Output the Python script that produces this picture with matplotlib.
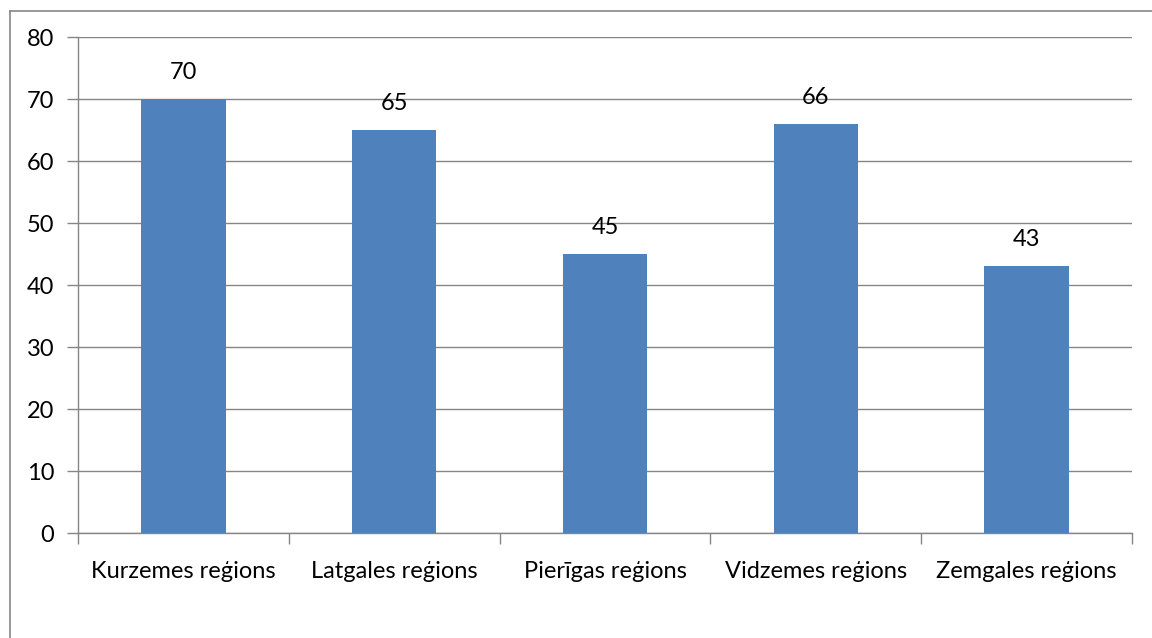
import matplotlib.pyplot as plt
from matplotlib.lines import Line2D

regions = ["Kurzemes reģions", "Latgales reģions", "Pierīgas reģions",
           "Vidzemes reģions", "Zemgales reģions"]
values = [70, 65, 45, 66, 43]
yticks = [0, 10, 20, 30, 40, 50, 60, 70, 80]

plt.rcParams['font.family'] = ['Lato', 'DejaVu Sans']

fig = plt.figure(figsize=(11.52, 6.38), dpi=100)
ax = fig.add_axes([78 / 1152, 1 - 533 / 638, (1132 - 78) / 1152, (533 - 37) / 638])

grey = '#868686'
x = list(range(len(regions)))
bars = ax.bar(x, values, width=0.4, color='#4F81BD', zorder=3)
for b, v in zip(bars, values):
    ax.text(b.get_x() + b.get_width() / 2, v + 2.6, str(v),
            ha='center', va='bottom', fontsize=17, color='black')

ax.set_xlim(-0.5, len(regions) - 0.5)
ax.set_ylim(0, 80)
ax.set_yticks(yticks)
ax.yaxis.grid(True, color=grey, linewidth=1, zorder=0)
ax.set_xticks(x)
ax.set_xticklabels(regions, fontsize=17)
ax.set_xticks([i - 0.5 for i in range(len(regions) + 1)], minor=True)
ax.tick_params(axis='x', which='major', length=0, pad=20)
ax.tick_params(axis='x', which='minor', length=8, color=grey, width=1, direction='out')
ax.tick_params(axis='y', length=8, color=grey, width=1, labelsize=17, pad=9)

for s in ['top', 'right']:
    ax.spines[s].set_visible(False)
for s in ['left', 'bottom']:
    ax.spines[s].set_color(grey)
    ax.spines[s].set_linewidth(1)

# outer chart frame (only left and top edges are inside the image)
fx, fy = 10 / 1152, 1 - 11 / 638
fig.lines.append(Line2D([fx, fx], [0, fy], transform=fig.transFigure, color=grey, linewidth=1.2))
fig.lines.append(Line2D([fx, 1], [fy, fy], transform=fig.transFigure, color=grey, linewidth=1.2))

fig.savefig('out.png', dpi=100)
